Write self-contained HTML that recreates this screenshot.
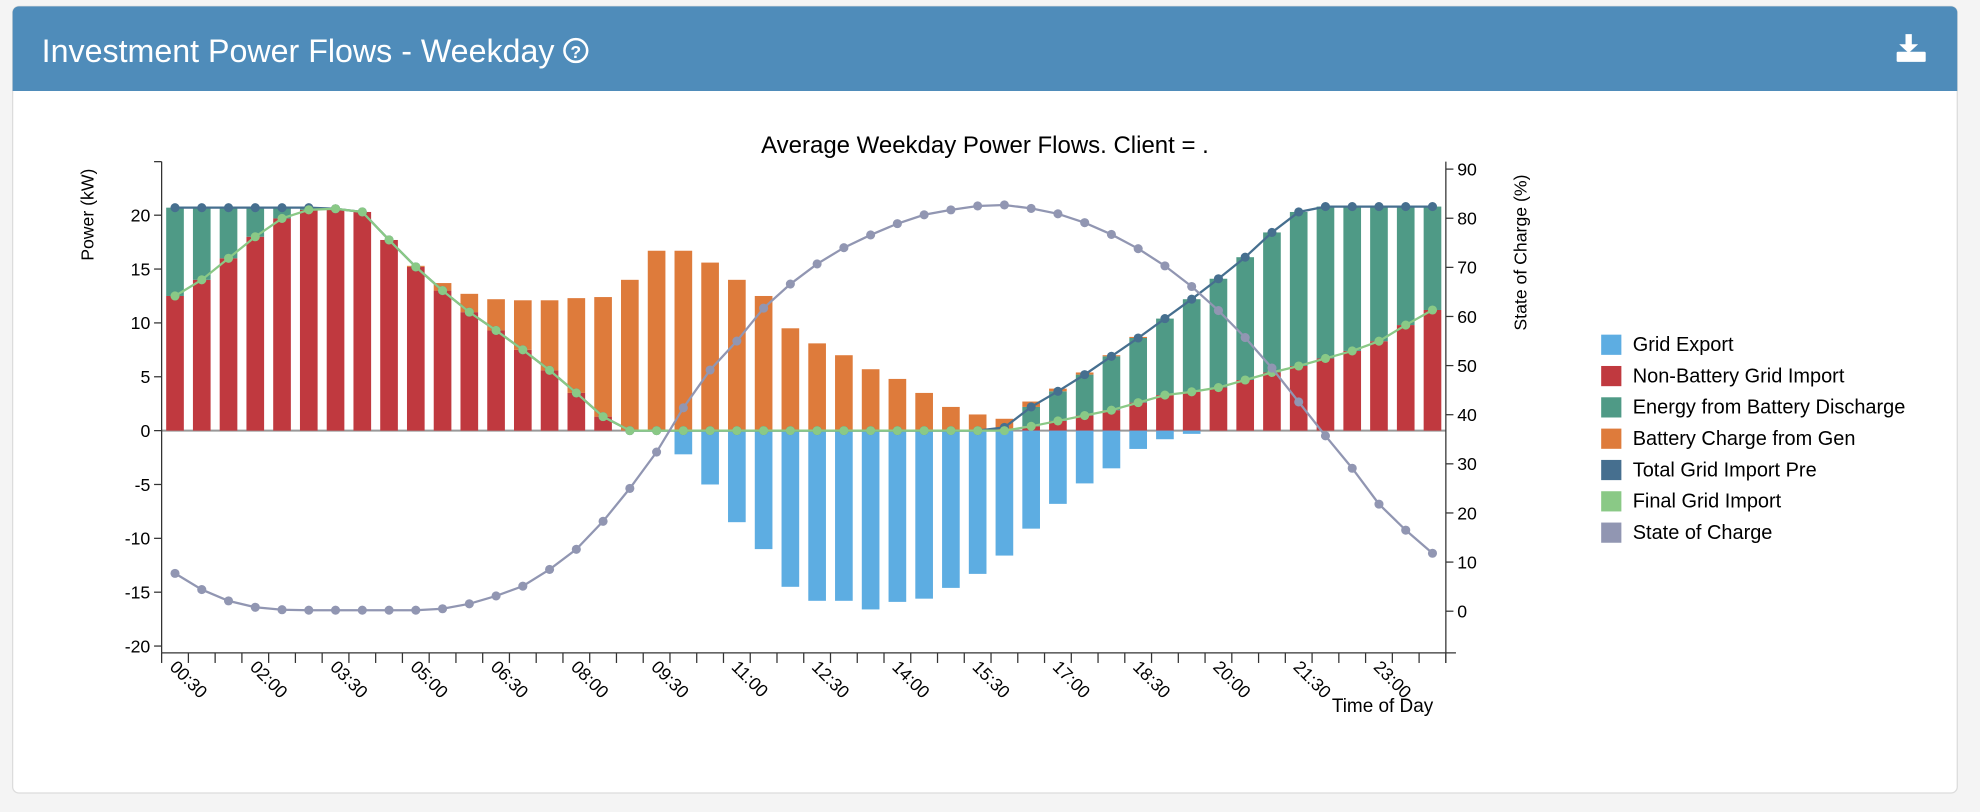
<!DOCTYPE html>
<html><head><meta charset="utf-8"><style>
html,body{margin:0;padding:0;background:#f4f4f4;}
svg{display:block;font-family:"Liberation Sans",sans-serif;}
</style></head><body>
<svg id="chart" width="1980" height="812" viewBox="0 0 1568 643">
<rect x="0" y="0" width="1568" height="643" fill="#f4f4f4"/>
<rect x="10" y="5" width="1540" height="623" rx="5" fill="#ffffff" stroke="#dcdcdc"/>
<path d="M10 72 V10 a5 5 0 0 1 5 -5 H1545 a5 5 0 0 1 5 5 V72 Z" fill="#4f8cba"/>
<text x="33" y="49" font-size="25.5" fill="#fff">Investment Power Flows - Weekday</text>
<g><circle cx="456" cy="40" r="9" fill="none" stroke="#fff" stroke-width="2"/><text x="456" y="46" font-size="14" font-weight="bold" fill="#fff" text-anchor="middle">?</text></g>
<g fill="#fff"><rect x="1509" y="27" width="5" height="9"/><path d="M1504 35 L1519 35 L1511.5 42 Z"/><rect x="1502" y="41" width="23" height="8" rx="1"/></g>
<text x="780" y="121" font-size="19" text-anchor="middle" fill="#000">Average Weekday Power Flows. Client = .</text>
<g id="plot"></g>
</svg>
<script>
const categories=[];for(let h=0;h<48;h++){const m=(h+1)*30;categories.push(String(Math.floor(m/60)).padStart(2,'0')+':'+String(m%60).padStart(2,'0'));}
const gridExport=[0,0,0,0,0,0,0,0,0,0,0,0,0,0,0,0,0,0,0,-2.2,-5,-8.5,-11,-14.5,-15.8,-15.8,-16.6,-15.9,-15.6,-14.6,-13.3,-11.6,-9.1,-6.8,-4.9,-3.5,-1.7,-0.8,-0.3,0,0,0,0,0,0,0,0,0];
const nonBatteryImport=[12.5,14,16,18,19.7,20.5,20.6,20.3,17.7,15.2,13,11,9.3,7.5,5.6,3.5,1.3,0,0,0,0,0,0,0,0,0,0,0,0,0,0,0,0.4,0.9,1.4,1.9,2.6,3.3,3.6,4.0,4.7,5.4,6.0,6.7,7.4,8.3,9.8,11.2];
const batteryDischarge=[8.2,6.7,4.7,2.7,1.0,0.2,0,0,0,0,0,0,0,0,0,0,0,0,0,0,0,0,0,0,0,0,0,0,0,0,0,0,1.8,2.75,3.8,5.0,6.0,7.1,8.6,10.1,11.4,13.0,14.3,14.1,13.4,12.5,11.0,9.6];
const chargeFromGen=[0,0,0,0,0,0,0,0,0,0.1,0.7,1.7,2.9,4.6,6.5,8.8,11.1,14.0,16.7,16.7,15.6,14.0,12.5,9.5,8.1,7.0,5.7,4.8,3.5,2.2,1.5,1.1,0.5,0.25,0.2,0.1,0.1,0,0,0,0,0,0,0,0,0,0,0];
const totalImportPre=[20.7,20.7,20.7,20.7,20.7,20.7,20.6,20.3,17.7,15.2,13,11,9.3,7.5,5.6,3.5,1.3,0,0,0,0,0,0,0,0,0,0,0,0,0,0,0.3,2.2,3.65,5.2,6.9,8.6,10.4,12.2,14.1,16.1,18.4,20.3,20.8,20.8,20.8,20.8,20.8];
const finalImport=[12.5,14,16,18,19.7,20.5,20.6,20.3,17.7,15.2,13,11,9.3,7.5,5.6,3.5,1.3,0,0,0,0,0,0,0,0,0,0,0,0,0,0,0,0.4,0.9,1.4,1.9,2.6,3.3,3.6,4.0,4.7,5.4,6.0,6.7,7.4,8.3,9.8,11.2];
const stateOfCharge=[7.7,4.4,2.1,0.8,0.3,0.2,0.2,0.2,0.2,0.2,0.5,1.5,3.1,5.1,8.5,12.6,18.3,25,32.4,41.4,49.1,55,61.7,66.6,70.7,74,76.6,78.9,80.7,81.7,82.5,82.7,82,80.9,79.1,76.7,73.8,70.3,66.1,61.2,55.7,49.5,42.6,35.7,29.1,21.8,16.5,11.8];
const leftTicks=[-20,-15,-10,-5,0,5,10,15,20];
const rightTicks=[0,10,20,30,40,50,60,70,80,90];
const legendLabels=['Grid Export','Non-Battery Grid Import','Energy from Battery Discharge','Battery Charge from Gen','Total Grid Import Pre','Final Grid Import','State of Charge'];

const C={exp:'#5dade2',red:'#c0393f',dis:'#4f9a86',gen:'#de7b3b',pre:'#466f8f',fin:'#8ac986',soc:'#9196b2'};
const NS='http://www.w3.org/2000/svg';
const g=document.getElementById('plot');
function mk(t,a,p){const e=document.createElementNS(NS,t);for(const k in a)e.setAttribute(k,a[k]);(p||g).appendChild(e);return e;}
const X0=128,X1=1145,YT=128,YB=517;
const band=(X1-X0)/categories.length, bw=band*0.66;
const xc=i=>X0+band*(i+0.5);
const yL=v=>341-v*8.53;
const yR=v=>484-v*3.89;

const zl=mk('line',{x1:X0,x2:X1,y1:yL(0),y2:yL(0),stroke:'#999','stroke-width':1.5});


for(let i=0;i<categories.length;i++){
  let base=0;
  const stack=[[nonBatteryImport[i],C.red,'bar-non-battery-import'],[batteryDischarge[i],C.dis,'bar-battery-discharge'],[chargeFromGen[i],C.gen,'bar-charge-from-gen']];
  for(const [v,c,n] of stack){
    if(v>0){const r=mk('rect',{x:xc(i)-bw/2,y:yL(base+v),width:bw,height:yL(base)-yL(base+v),fill:c});
      
      }
    base+=v;
  }
  if(gridExport[i]<0){const r=mk('rect',{x:xc(i)-bw/2,y:yL(0),width:bw,height:yL(gridExport[i])-yL(0),fill:C.exp});
    
    }
}
function line(arr,yf,col,name){
  const d=arr.map((v,i)=>(i?'L':'M')+xc(i)+' '+yf(v)).join(' ');
  const p=mk('path',{d:d,fill:'none',stroke:col,'stroke-width':1.8});
  
  
  arr.forEach((v,i)=>{const c=mk('circle',{cx:xc(i),cy:yf(v),r:3.6,fill:col});
    
    });
}
line(totalImportPre,yL,C.pre,'total-import-pre');
line(finalImport,yL,C.fin,'final-import');
line(stateOfCharge,yR,C.soc,'state-of-charge');

const ax=mk('g',{stroke:'#333','stroke-width':1,fill:'none'});


mk('line',{x1:X0,x2:X0,y1:YT,y2:YB},ax);
mk('line',{x1:X0-6,x2:X0,y1:YT,y2:YT},ax);
mk('line',{x1:X1,x2:X1,y1:YT,y2:YB+8},ax);
mk('line',{x1:X0,x2:X1+8,y1:YB,y2:YB},ax);
leftTicks.forEach(v=>{mk('line',{x1:X0-6,x2:X0,y1:yL(v),y2:yL(v)},ax);
  const t=mk('text',{x:X0-9,y:yL(v)+5,'font-size':14,'text-anchor':'end',fill:'#000',stroke:'none'},ax);t.textContent=v;
  
  });
rightTicks.forEach(v=>{mk('line',{x1:X1,x2:X1+6,y1:yR(v),y2:yR(v)},ax);
  const t=mk('text',{x:X1+9,y:yR(v)+5,'font-size':14,fill:'#000',stroke:'none'},ax);t.textContent=v;
  
  });
for(let i=0;i<=categories.length;i++){mk('line',{x1:X0+band*i,x2:X0+band*i,y1:YB,y2:YB+8},ax);}
categories.forEach((c,i)=>{if(i%3)return;
  const t=mk('text',{x:0,y:0,'font-size':14,fill:'#000',transform:`translate(${xc(i)-5},${YB+12}) rotate(45)`});t.textContent=c;
  
  });
const xt=mk('text',{x:1135,y:564,'font-size':15,'text-anchor':'end',fill:'#000'});xt.textContent='Time of Day';


const yt=mk('text',{x:0,y:0,'font-size':14,'text-anchor':'middle',fill:'#000',transform:'translate(74,170) rotate(-90)'});yt.textContent='Power (kW)';


const yt2=mk('text',{x:0,y:0,'font-size':14,'text-anchor':'middle',fill:'#000',transform:'translate(1209,200) rotate(-90)'});yt2.textContent='State of Charge (%)';



const lc=[C.exp,C.red,C.dis,C.gen,C.pre,C.fin,C.soc];
legendLabels.forEach((l,i)=>{const y=273+i*24.8;
  const lg=mk('g',{});
  
  
  mk('rect',{x:1268,y:y-8,width:16,height:16,fill:lc[i]},lg);
  const t=mk('text',{x:1293,y:y+5,'font-size':15.8,fill:'#000'},lg);t.textContent=l;});
</script>
</body></html>
